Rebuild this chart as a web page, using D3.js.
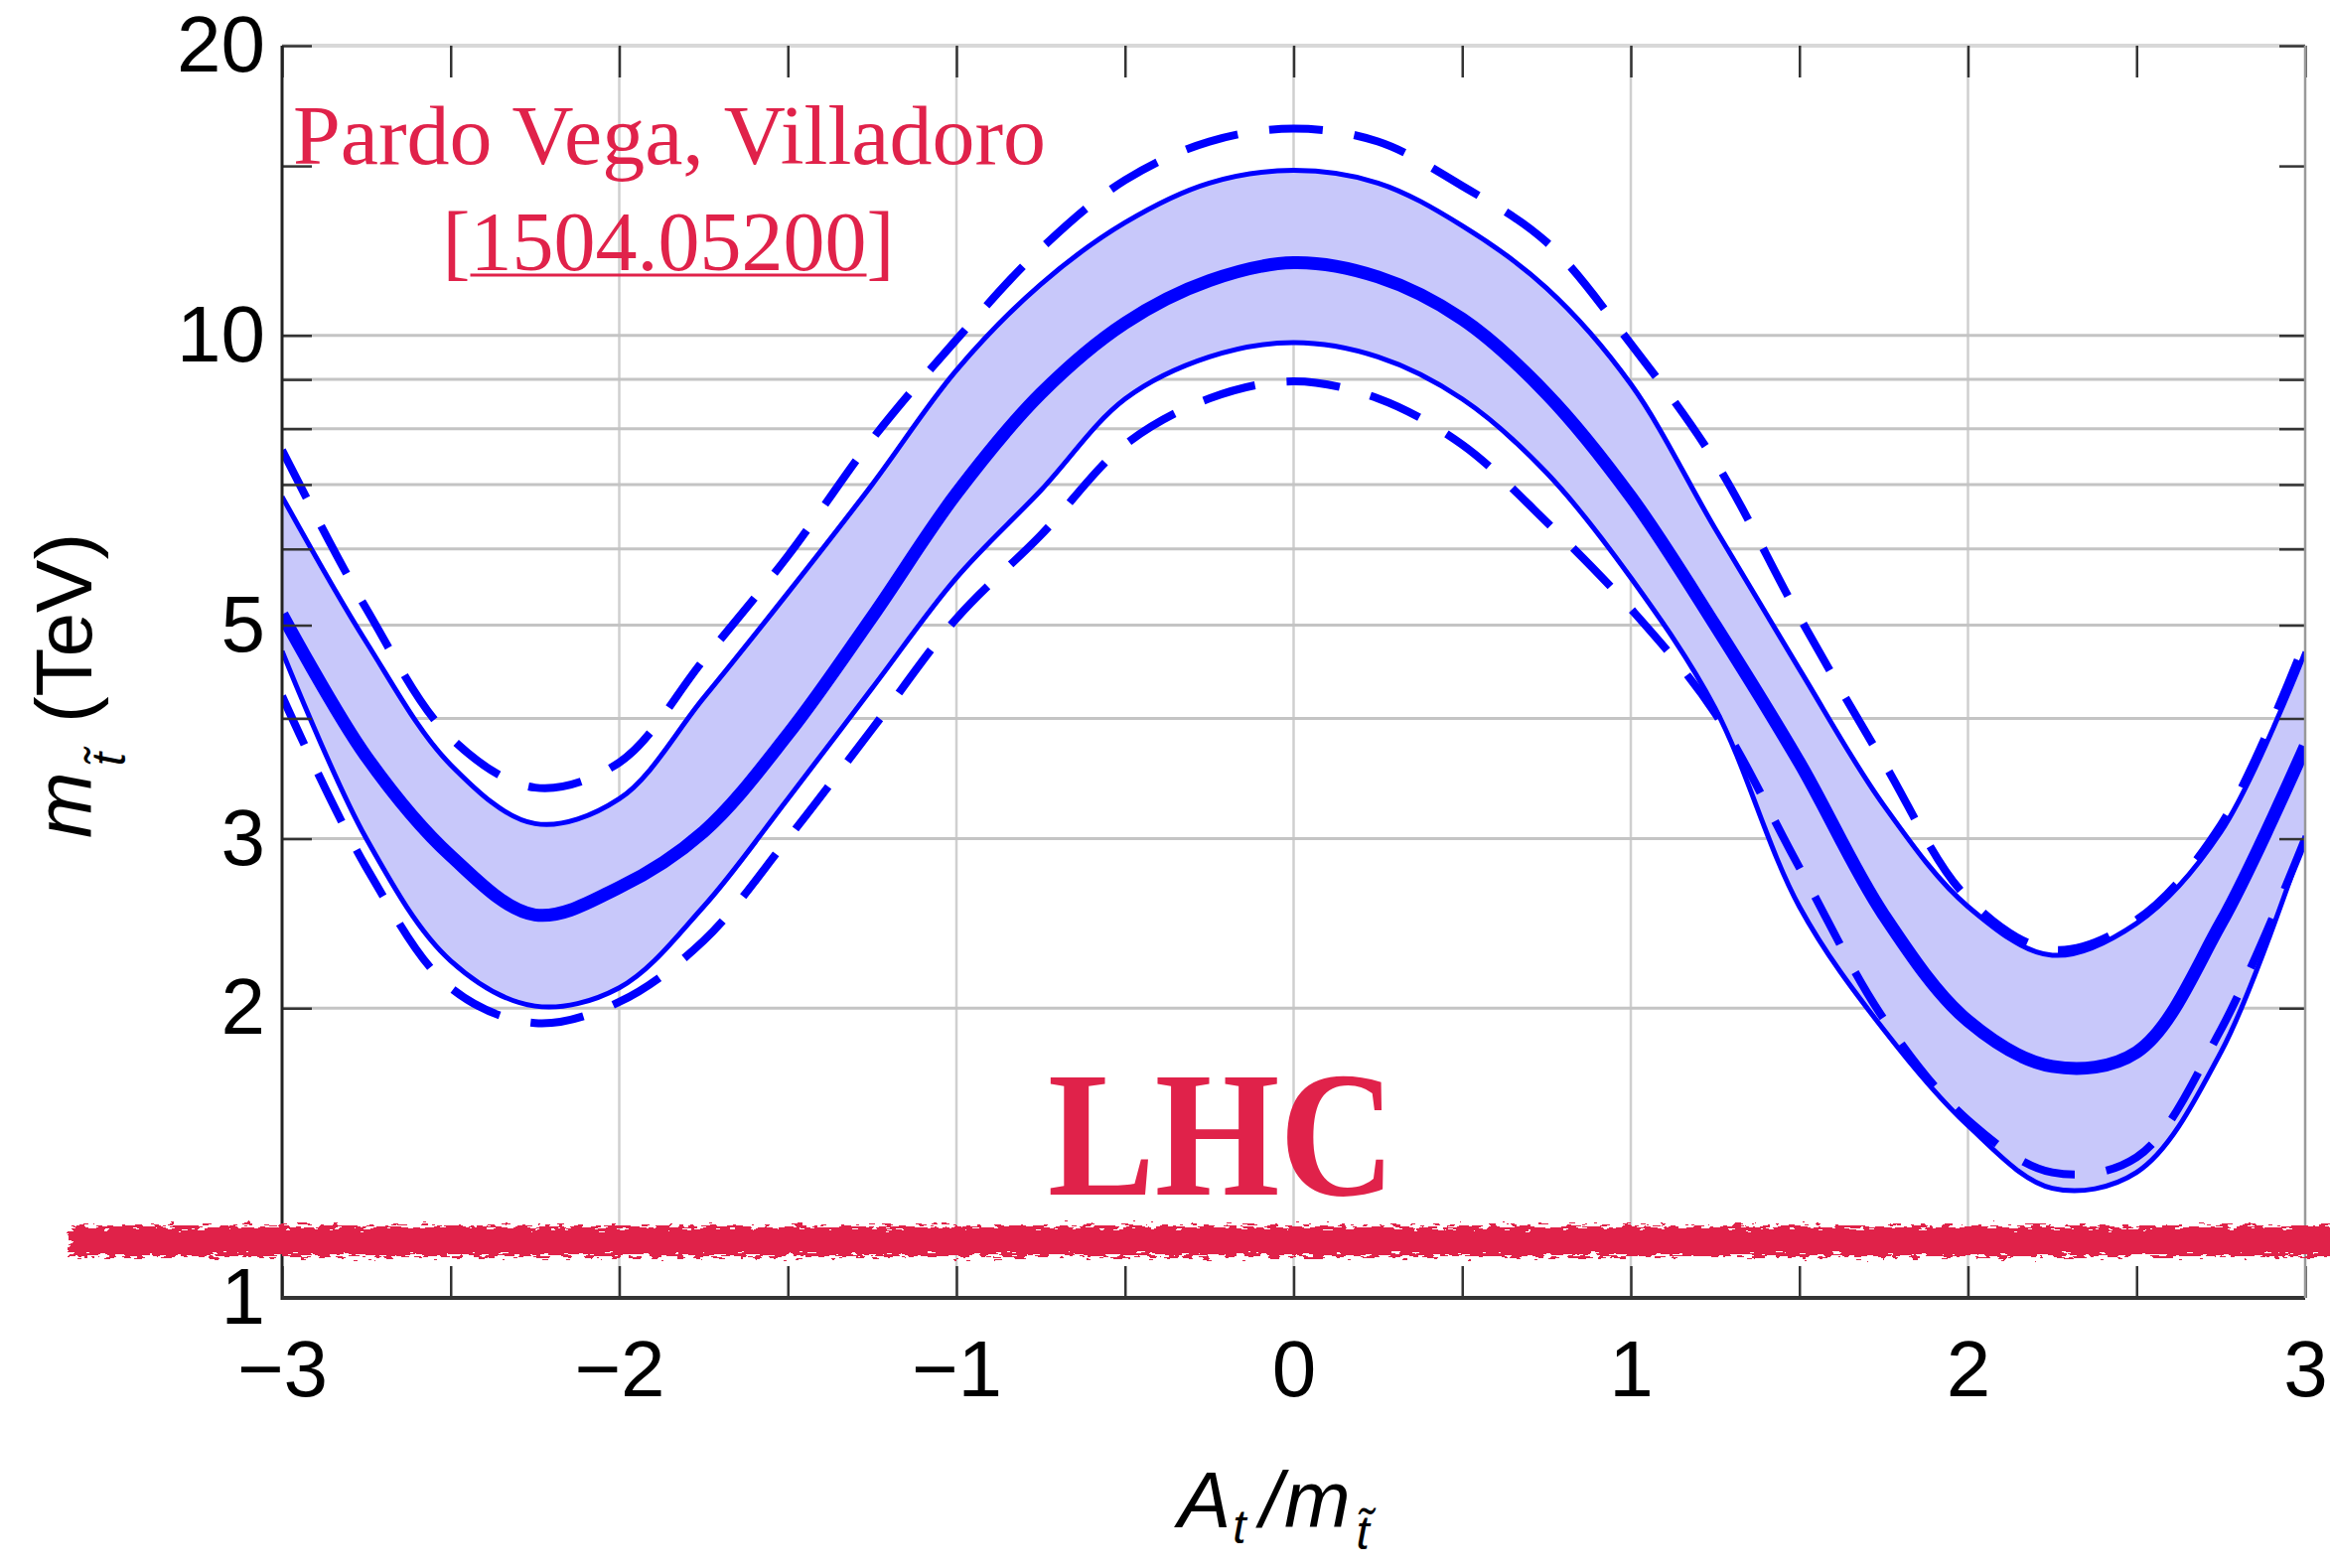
<!doctype html>
<html lang="en">
<head>
<meta charset="UTF-8" />
<title>Stop mass vs At/mstop</title>
<script src="https://d3js.org/d3.v7.min.js"></script>
<style>
  body, html { margin: 0; padding: 0; background: #fff; overflow: hidden; }
  svg { display: block; }
  .axis text { font-family: "Liberation Sans", Arial, sans-serif; font-size: 80px; fill: #000; }
  .axis line { stroke: #333; stroke-width: 2.5px; }
  .title { font-family: "Liberation Sans", Arial, sans-serif; font-size: 80px; fill: #000; }
  .red { font-family: "Liberation Serif", "Times New Roman", serif; fill: #e0224a; }
</style>
</head>
<body>
<svg id="chart"></svg>
<script>
// A_t / m_stop sample points
const At = [-3, -2.75, -2.5, -2.25, -2, -1.75, -1.5, -1.25, -1, -0.75, -0.5, -0.25,
            0, 0.25, 0.5, 0.75, 1, 1.25, 1.5, 1.75, 2, 2.25, 2.5, 2.75, 3];
// stop mass (TeV)
const mCentral   = [5.13, 3.65, 2.88, 2.50, 2.67, 3.05, 3.85, 5.1, 6.85, 8.7, 10.3, 11.4,
                    11.9, 11.5, 10.4, 8.7, 6.8, 5.0, 3.6, 2.5, 1.94, 1.74, 1.80, 2.45, 3.74];
const mUpper     = [6.8, 4.8, 3.58, 3.11, 3.30, 4.2, 5.4, 7.0, 9.2, 11.3, 13.1, 14.4,
                    14.84, 14.4, 13.0, 11.2, 8.9, 6.3, 4.5, 3.25, 2.55, 2.27, 2.45, 3.05, 4.69];
const mLower     = [4.70, 3.0, 2.24, 2.01, 2.10, 2.55, 3.3, 4.3, 5.6, 6.9, 8.59, 9.5,
                    9.83, 9.5, 8.59, 7.2, 5.6, 4.1, 2.55, 1.9, 1.51, 1.30, 1.35, 1.8, 3.02];
const mUpperDash = [7.6, 5.2, 3.82, 3.39, 3.60, 4.6, 5.9, 7.8, 9.9, 12.3, 14.5, 15.9,
                    16.4, 15.9, 14.3, 12.5, 9.8, 7.4, 5.1, 3.6, 2.6, 2.3, 2.47, 3.1, 4.81];
const mLowerDash = [4.22, 2.8, 2.10, 1.93, 2.03, 2.35, 3.0, 3.9, 5.08, 6.2, 7.70, 8.6,
                    8.96, 8.6, 7.70, 6.4, 5.2, 4.05, 2.8, 1.95, 1.53, 1.35, 1.40, 1.9, 3.0];

const xTicks = [-3, -2.5, -2, -1.5, -1, -0.5, 0, 0.5, 1, 1.5, 2, 2.5, 3];
const xLabels = [-3, -2, -1, 0, 1, 2, 3];
const yTicks = [1, 2, 3, 4, 5, 6, 7, 8, 9, 10, 15, 20];
const yLabels = [1, 2, 3, 5, 10, 20];
const xGrid = [-2, -1, 0, 1, 2];
const yGrid = [2, 3, 4, 5, 6, 7, 8, 9, 10];
const lhcReach = 1.145; // hand drawn LHC line (TeV)

const width = 2346, height = 1579;
const plot = { left: 284, right: 2321, top: 46, bottom: 1307 };

const svg = d3.select("#chart").attr("width", width).attr("height", height);

const x = d3.scaleLinear().domain([-3, 3]).range([plot.left, plot.right]);
const y = d3.scaleLog().domain([1, 20]).range([plot.bottom, plot.top]);

const defs = svg.append("defs");
defs.append("clipPath").attr("id", "clip")
  .append("rect")
  .attr("x", plot.left).attr("y", plot.top)
  .attr("width", plot.right - plot.left).attr("height", plot.bottom - plot.top);

// rough marker-like edge for the red line
const rough = defs.append("filter").attr("id", "rough")
  .attr("filterUnits", "userSpaceOnUse")
  .attr("x", 0).attr("y", 1180).attr("width", width).attr("height", 140);
rough.append("feTurbulence").attr("type", "fractalNoise")
  .attr("baseFrequency", "0.09 0.35").attr("numOctaves", 2).attr("seed", 7).attr("result", "noise");
rough.append("feDisplacementMap").attr("in", "SourceGraphic").attr("in2", "noise")
  .attr("scale", 18).attr("xChannelSelector", "R").attr("yChannelSelector", "G");

// grid
svg.append("g").selectAll("line").data(xGrid).join("line")
  .attr("x1", d => x(d)).attr("x2", d => x(d))
  .attr("y1", plot.top).attr("y2", plot.bottom)
  .attr("stroke", "#cfcfcf").attr("stroke-width", 2.5);
svg.append("g").selectAll("line").data(yGrid).join("line")
  .attr("x1", plot.left).attr("x2", plot.right)
  .attr("y1", d => y(d)).attr("y2", d => y(d))
  .attr("stroke", "#c4c4c4").attr("stroke-width", 3);
svg.append("line")
  .attr("x1", plot.left).attr("x2", plot.right)
  .attr("y1", y(20)).attr("y2", y(20))
  .attr("stroke", "#d8d8d8").attr("stroke-width", 4);

// curves
const pts = arr => arr.map((m, i) => [At[i], m]);
const smooth = d3.curveCatmullRom.alpha(0.5);
const line = d3.line().x(d => x(d[0])).y(d => y(d[1])).curve(smooth);
const area = d3.area()
  .x((d, i) => x(At[i]))
  .y0((d, i) => y(mLower[i]))
  .y1((d, i) => y(mUpper[i]))
  .curve(smooth);

const curves = svg.append("g").attr("clip-path", "url(#clip)");
curves.append("path").datum(At).attr("d", area).attr("fill", "#c8c8fa");

[mUpperDash, mLowerDash].forEach(arr => {
  curves.append("path").datum(pts(arr)).attr("d", line)
    .attr("fill", "none").attr("stroke", "#0000ff")
    .attr("stroke-width", 8).attr("stroke-dasharray", "54 32");
});
[mUpper, mLower].forEach(arr => {
  curves.append("path").datum(pts(arr)).attr("d", line)
    .attr("fill", "none").attr("stroke", "#0000ff").attr("stroke-width", 5);
});
curves.append("path").datum(pts(mCentral)).attr("d", line)
  .attr("fill", "none").attr("stroke", "#0000ff").attr("stroke-width", 13);

// axes
const fmt = d3.format("d");
svg.append("g").attr("class", "axis")
  .attr("transform", `translate(0,${plot.bottom})`)
  .call(d3.axisBottom(x).tickValues(xTicks).tickSizeInner(-32).tickSizeOuter(0).tickPadding(42)
    .tickFormat(d => xLabels.includes(d) ? fmt(d) : ""))
  .call(g => g.select(".domain").remove());
svg.append("g").attr("class", "axis")
  .attr("transform", `translate(0,${plot.top})`)
  .call(d3.axisTop(x).tickValues(xTicks).tickSizeInner(-32).tickSizeOuter(0).tickFormat(""))
  .call(g => g.select(".domain").remove());
svg.append("g").attr("class", "axis")
  .attr("transform", `translate(${plot.left},0)`)
  .call(d3.axisLeft(y).tickValues(yTicks).tickSizeInner(-30).tickSizeOuter(0).tickPadding(17)
    .tickFormat(d => yLabels.includes(d) ? fmt(d) : ""))
  .call(g => g.select(".domain").remove());
svg.append("g").attr("class", "axis")
  .attr("transform", `translate(${plot.right},0)`)
  .call(d3.axisRight(y).tickValues(yTicks).tickSizeInner(-26).tickSizeOuter(0).tickFormat(""))
  .call(g => g.select(".domain").remove());

svg.append("line").attr("x1", plot.left).attr("x2", plot.left)
  .attr("y1", plot.top).attr("y2", plot.bottom + 2)
  .attr("stroke", "#222").attr("stroke-width", 3);
svg.append("line").attr("x1", plot.left).attr("x2", plot.right)
  .attr("y1", plot.bottom).attr("y2", plot.bottom)
  .attr("stroke", "#333").attr("stroke-width", 4);
svg.append("line").attr("x1", plot.right).attr("x2", plot.right)
  .attr("y1", plot.top).attr("y2", plot.bottom)
  .attr("stroke", "#999").attr("stroke-width", 2.5);

// axis titles: m with a tilde-t subscript
const xt = svg.append("text").attr("class", "title").attr("x", 1186).attr("y", 1538);
xt.append("tspan").attr("font-style", "italic").text("A");
xt.append("tspan").attr("font-style", "italic").attr("font-size", 48)
  .attr("dx", 2).attr("dy", 16).text("t");
xt.append("tspan").attr("font-style", "italic").attr("dx", 14).attr("dy", -16).text("/");
xt.append("tspan").attr("font-style", "italic").attr("dx", 2).text("m");
xt.append("tspan").attr("font-style", "italic").attr("font-size", 48)
  .attr("dx", 6).attr("dy", 22).text("t\u0303");

const yt = svg.append("text").attr("class", "title")
  .attr("transform", "translate(92,844) rotate(-90)");
yt.append("tspan").attr("font-style", "italic").text("m");
yt.append("tspan").attr("font-style", "italic").attr("font-size", 48)
  .attr("dx", 6).attr("dy", 34).text("t\u0303");
yt.append("tspan").attr("dx", 30).attr("dy", -34).text("(TeV)");

// annotations
svg.append("text").attr("class", "red")
  .attr("x", 295).attr("y", 165).attr("font-size", 84)
  .attr("textLength", 758).attr("lengthAdjust", "spacingAndGlyphs")
  .text("Pardo Vega, Villadoro");

const ref = svg.append("text").attr("class", "red")
  .attr("x", 673).attr("y", 272).attr("font-size", 84)
  .attr("text-anchor", "middle")
  .text("[1504.05200]");
const refNode = ref.node();
const ux0 = refNode.getStartPositionOfChar(1).x;
const ux1 = refNode.getEndPositionOfChar(10).x;
svg.append("line").attr("x1", ux0).attr("x2", ux1)
  .attr("y1", 277).attr("y2", 277)
  .attr("stroke", "#e0224a").attr("stroke-width", 3);

svg.append("text").attr("class", "red")
  .attr("x", 1055).attr("y", 1203).attr("font-size", 181).attr("font-weight", "bold")
  .attr("textLength", 350).attr("lengthAdjust", "spacingAndGlyphs")
  .text("LHC");

svg.append("line")
  .attr("x1", 70).attr("x2", width + 20)
  .attr("y1", y(lhcReach)).attr("y2", y(lhcReach))
  .attr("stroke", "#e0224a").attr("stroke-width", 30)
  .attr("filter", "url(#rough)");
</script>
</body>
</html>
